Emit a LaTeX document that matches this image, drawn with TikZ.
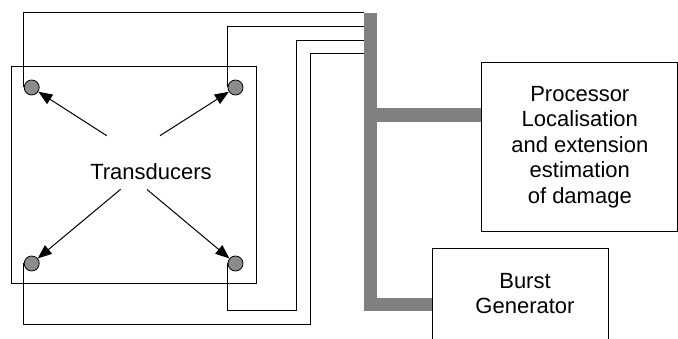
\documentclass[tikz,border=0pt]{standalone}
\usepackage{fontspec}
\setmainfont{Liberation Sans}
\usetikzlibrary{arrows.meta}
\tikzset{
  block node/.style={
    draw,
    line width=1pt,
    inner sep=0pt,
    align=center,
    font=\fontsize{22}{25.5}\selectfont,
  },
  sensor node/.style={
    circle,
    draw,
    line width=0.8pt,
    fill=black!45,
    inner sep=0pt,
    minimum size=15pt,
  },
  wire/.style={line width=1pt},
  bus/.style={line width=13.5pt, draw=black!50, line join=miter},
  pointer/.style={line width=1pt, -{Triangle[length=14pt, width=11pt]}},
}
\begin{document}
\begin{tikzpicture}[x=1pt, y=-1pt]
      \useasboundingbox (0,0) rectangle (678,339);
      \clip (0,0) rectangle (678,339);

      % plate with the four transducers
      \node[block node, minimum width=245pt, minimum height=217pt] (plate) at (133.5,175.5) {};
      \node[font=\fontsize{22}{25.5}\selectfont, anchor=base, inner sep=0pt] (label) at (151,180) {Transducers};
      \node[sensor node] (tl) at (31.7,87.5) {};
      \node[sensor node] (tr) at (235.5,87.5) {};
      \node[sensor node] (bl) at (31.7,263.5) {};
      \node[sensor node] (br) at (235.5,263.5) {};

      % blocks on the right
      \node[block node, minimum width=195.7pt, minimum height=169.4pt] (proc) at (579.8,147)
        {Processor\\Localisation\\and extension\\estimation\\of damage};
      \node[block node, minimum width=175.6pt, minimum height=140pt, anchor=north] (burst) at (520.5,248.3) {};
      \node[font=\fontsize{22}{25.7}\selectfont, align=center, inner sep=0pt] (burstlabel) at (525,293.4) {Burst\\Generator};

      % bus
      \coordinate (bustop) at (370.5,13);
      \coordinate (tap) at (370.5,115);
      \coordinate (busend) at (370.5,304.7);
      \draw[bus] (bustop) -- (busend) -- (busend -| burst.west);
      \draw[bus] (tap) -- (tap -| proc.west);

      % wires from the transducers to the bus
      \coordinate (b1) at (364,13);
      \coordinate (b2) at (364,26.7);
      \coordinate (b3) at (364,40.3);
      \coordinate (b4) at (364,53.7);
      \draw[wire] (tl.west) |- (b1);
      \draw[wire] (tr.west) |- (b2);
      \draw[wire] (br.west) |- (296.3,311) |- (b3);
      \draw[wire] (bl.west) |- (310,325) |- (b4);

      % arrows from the label
      \coordinate (a1) at (106.7,135.7);
      \coordinate (a2) at (160,135.7);
      \coordinate (a3) at (120.7,189.3);
      \coordinate (a4) at (147,189.5);
      \draw[pointer] (a1) -- (tl);
      \draw[pointer] (a2) -- (tr);
      \draw[pointer] (a3) -- (bl);
      \draw[pointer] (a4) -- (br);
    \end{tikzpicture}
\end{document}
